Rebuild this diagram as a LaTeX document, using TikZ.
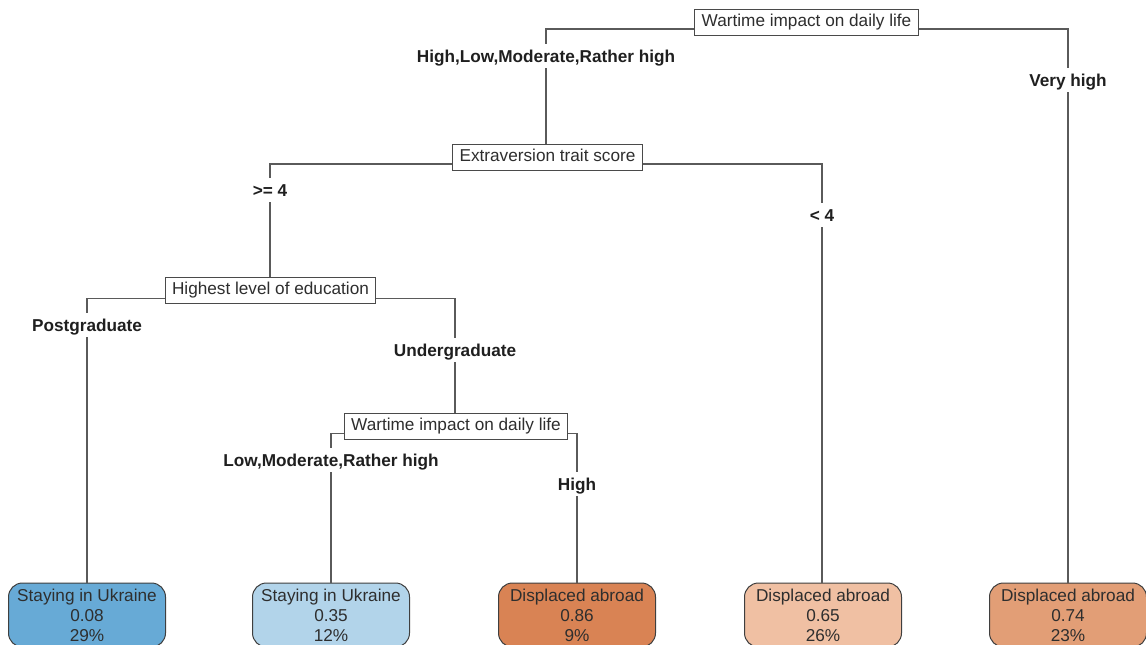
\documentclass[tikz,border=0pt]{standalone}
\usepackage{fontspec}
\setmainfont{Liberation Sans}
\definecolor{linegray}{HTML}{5A5A5A}
\definecolor{boxgray}{HTML}{4A4A4A}
\definecolor{txtgray}{HTML}{2E2E2E}
\definecolor{leafA}{HTML}{67AAD6}
\definecolor{leafB}{HTML}{B2D4EA}
\definecolor{leafC}{HTML}{D98354}
\definecolor{leafD}{HTML}{F0C0A3}
\definecolor{leafE}{HTML}{E29E76}
\begin{document}
\begin{tikzpicture}[x=1pt,y=-1pt,
  every node/.style={font=\fontsize{17.2}{20}\selectfont},
  split/.style={draw=boxgray,line width=1pt,fill=white,text=txtgray,inner xsep=7pt,inner ysep=0pt,
    minimum height=26pt,text height=12.5pt,text depth=3.6pt},
  edgelab/.style={font=\fontsize{17.2}{20}\selectfont\bfseries,text=black!88,inner sep=0pt,
    minimum height=24pt,text height=12.5pt,text depth=0pt},
  leaf/.style={draw=boxgray!85!black,line width=1pt,rounded corners=14pt,text=txtgray,align=center,
    minimum width=157pt,minimum height=64pt,inner sep=0pt},
  conn/.style={draw=linegray,line width=1.2pt}]
\useasboundingbox (0,0) rectangle (1146,645);
% decision nodes
\node[split] (root) at (806.5,22) {Wartime impact on daily life};
\node[split] (ext) at (547.5,157) {Extraversion trait score};
\node[split] (edu) at (270.5,290.5) {Highest level of education};
\node[split] (war) at (456,426) {Wartime impact on daily life};
% edge labels
\node[edgelab] (l1) at (546,56) {High,Low,Moderate,Rather high};
\node[edgelab] (l2) at (1068,80) {Very high};
\node[edgelab] (l3) at (270,190) {>= 4};
\node[edgelab] (l4) at (822,215) {< 4};
\node[edgelab] (l5) at (87,325) {Postgraduate};
\node[edgelab] (l6) at (455,350) {Undergraduate};
\node[edgelab] (l7) at (331,460) {Low,Moderate,Rather high};
\node[edgelab] (l8) at (577,484) {High};
% leaves
\node[leaf,fill=leafA] (f1) at (87,615) {Staying in Ukraine\\0.08\\29\%};
\node[leaf,fill=leafB] (f2) at (331,615) {Staying in Ukraine\\0.35\\12\%};
\node[leaf,fill=leafC] (f3) at (577,615) {Displaced abroad\\0.86\\9\%};
\node[leaf,fill=leafD] (f4) at (823,615) {Displaced abroad\\0.65\\26\%};
\node[leaf,fill=leafE] (f5) at (1068,615) {Displaced abroad\\0.74\\23\%};
% connectors
\draw[conn] ([yshift=6.5pt]root.south west) -| (l1.north);
\draw[conn] (l1.south) -- (l1.south |- ext.north);
\draw[conn] ([yshift=6.5pt]root.south east) -| (l2.north);
\draw[conn] (l2.south) -- (l2.south |- f5.north);
\draw[conn] ([yshift=6.5pt]ext.south west) -| (l3.north);
\draw[conn] (l3.south) -- (l3.south |- edu.north);
\draw[conn] ([yshift=6.5pt]ext.south east) -| (l4.north);
\draw[conn] (l4.south) -- (l4.south |- f4.north);
\draw[conn] ([yshift=5.5pt]edu.south west) -| (l5.north);
\draw[conn] (l5.south) -- (l5.south |- f1.north);
\draw[conn] ([yshift=5.5pt]edu.south east) -| (l6.north);
\draw[conn] (l6.south) -- (l6.south |- war.north);
\draw[conn] ([yshift=6pt]war.south west) -| (l7.north);
\draw[conn] (l7.south) -- (l7.south |- f2.north);
\draw[conn] ([yshift=6pt]war.south east) -| (l8.north);
\draw[conn] (l8.south) -- (l8.south |- f3.north);
\end{tikzpicture}
\end{document}
